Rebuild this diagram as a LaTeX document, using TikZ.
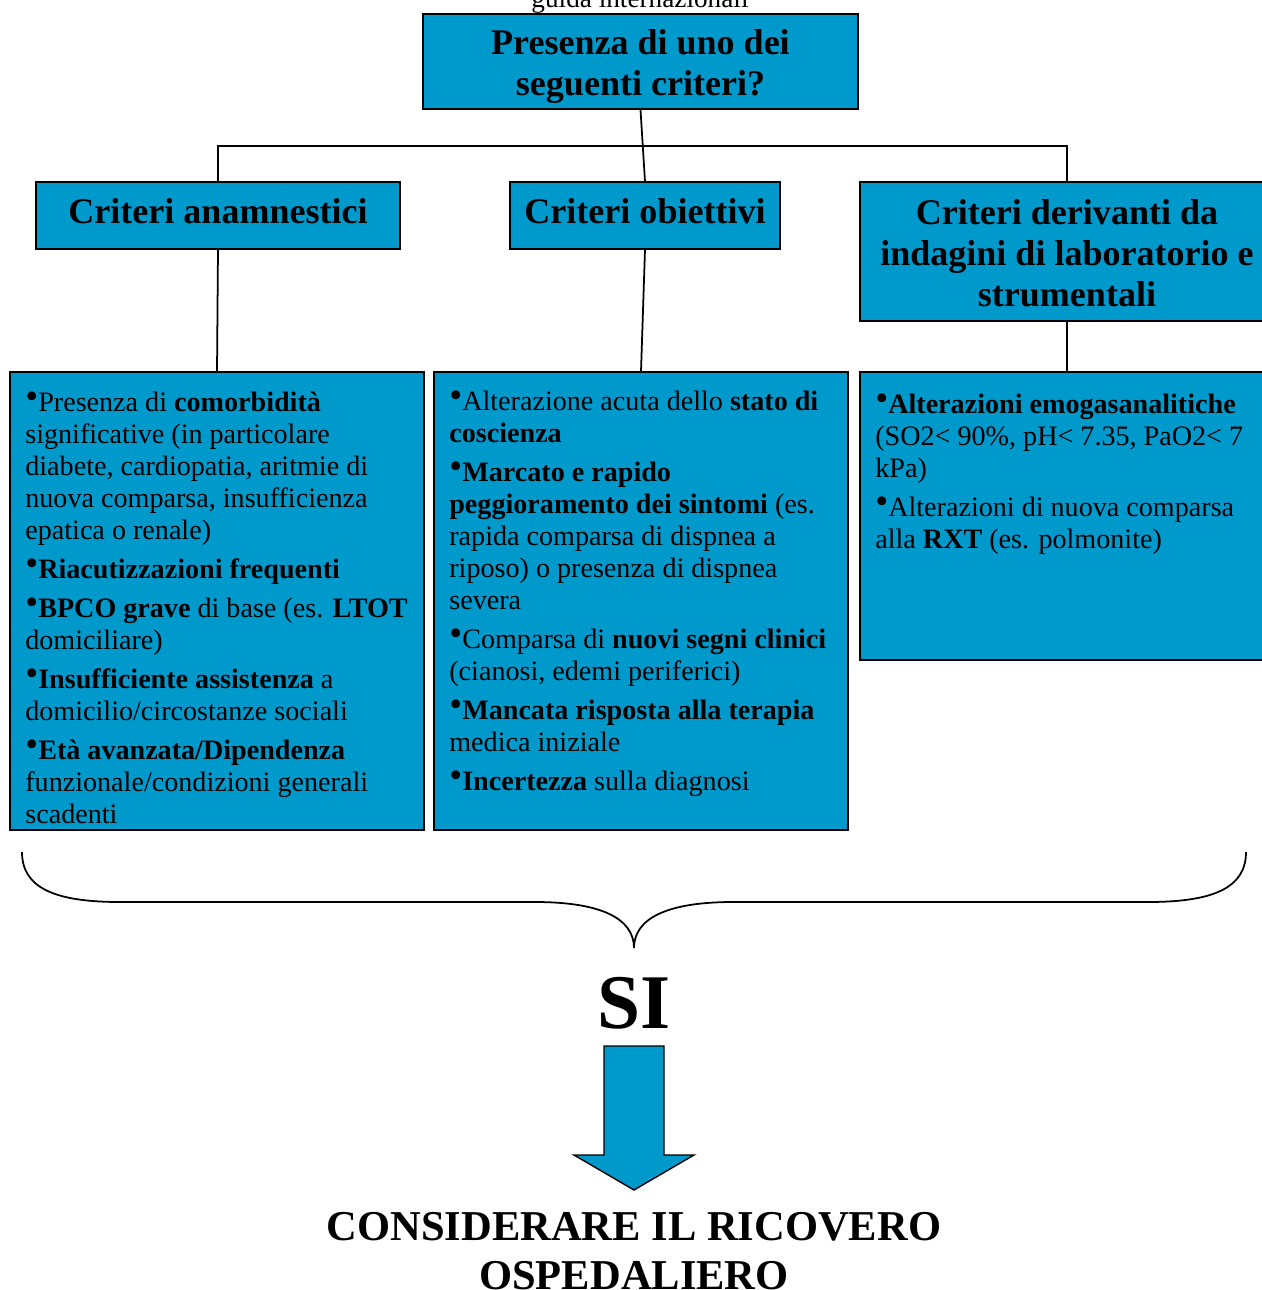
\documentclass[tikz,border=0pt]{standalone}
\usepackage{fontspec}
\setmainfont{Liberation Serif}
\usetikzlibrary{positioning}
\definecolor{critblue}{HTML}{0099CC}
\newcommand{\bul}{\raisebox{0.22ex}{\fontsize{21}{21}\selectfont\textbullet}}

\begin{document}
\begin{tikzpicture}[
    x=0.2mm, y=-0.2mm,
    box/.style={draw=black,fill=critblue,line width=0.6pt,inner sep=0pt},
    head/.style={box,align=center,font=\bfseries\fontsize{20.5}{23.4}\selectfont},
    items/.style={anchor=base west,align=left,inner sep=0pt,font=\fontsize{16}{18.2}\selectfont},
    link/.style={line width=1pt}
]
\useasboundingbox (0,0) rectangle (1262,1290);

\node[anchor=base,font=\fontsize{15.5}{17}\selectfont] (guide) at (640,7) {guida internazionali};

% domanda e gruppi di criteri
\node[head,minimum width=87mm,minimum height=19mm] (quest) at (640.5,61.5) {\rule{0pt}{19.7pt}Presenza di uno dei\\seguenti criteri?};
\node[head,text depth=4.6pt,minimum width=72.8mm,minimum height=13.4mm] (anam) at (218,215.5) {Criteri anamnestici};
\node[head,text depth=4.6pt,minimum width=54mm,minimum height=13.4mm] (obj) at (645,215.5) {Criteri obiettivi};
\node[head,minimum width=82.8mm,minimum height=27.8mm] (lab) at (1067,251.5) {\rule{0pt}{16.5pt}Criteri derivanti da\\indagini di laboratorio e\\strumentali};

\node[box,minimum width=82.8mm,minimum height=91.6mm] (anamlist) at (217,601) {};
\node[box,minimum width=82.8mm,minimum height=91.6mm] (objlist) at (641,601) {};
\node[box,minimum width=82.8mm,minimum height=57.6mm] (lablist) at (1067,516) {};

\coordinate (bus) at (640,146);
\draw[link] (quest.south) -- (obj.north);
\draw[link] (anam.north) |- (bus) -| (lab.north);
\draw[link] (anam.south) -- (anamlist.north);
\draw[link] (obj.south) -- (objlist.north);
\draw[link] (lab.south) -- (lablist.north);

% testi degli elenchi (ancorati all'ultima riga)
\node[items] (anamtxt) at (25,823) {\bul Presenza di \textbf{comorbidità}\\
significative (in particolare\\
diabete, cardiopatia, aritmie di\\
nuova comparsa, insufficienza\\
epatica o renale)\\[4pt]
\bul\textbf{Riacutizzazioni frequenti}\\[4pt]
\bul\textbf{BPCO grave} di base (es. \textbf{LTOT}\\
domiciliare)\\[4pt]
\bul\textbf{Insufficiente assistenza} a\\
domicilio/circostanze sociali\\[4pt]
\bul\textbf{Età avanzata/Dipendenza}\\
funzionale/condizioni generali\\
scadenti};

\node[items] (objtxt) at (449,790) {\bul Alterazione acuta dello \textbf{stato di}\\
\textbf{coscienza}\\[4pt]
\bul\textbf{Marcato e rapido}\\
\textbf{peggioramento dei sintomi} (es.\\
rapida comparsa di dispnea a\\
riposo) o presenza di dispnea\\
severa\\[4pt]
\bul Comparsa di \textbf{nuovi segni clinici}\\
(cianosi, edemi periferici)\\[4pt]
\bul\textbf{Mancata risposta alla terapia}\\
medica iniziale\\[4pt]
\bul\textbf{Incertezza} sulla diagnosi};

\node[items] (labtxt) at (875,548) {\bul\textbf{Alterazioni emogasanalitiche}\\
(SO2< 90\%, pH< 7.35, PaO2< 7\\
kPa)\\[4pt]
\bul Alterazioni di nuova comparsa\\
alla \textbf{RXT} (es. polmonite)};

% graffa
\coordinate (tip) at (634,948);
\draw[link] (22,852) .. controls (22,888) and (55,902) .. (120,902) -- (535,902)
  .. controls (600,902) and (634,918) .. (tip);
\draw[link] (1246,852) .. controls (1246,888) and (1213,902) .. (1148,902) -- (733,902)
  .. controls (668,902) and (634,918) .. (tip);

\node[anchor=base,font=\bfseries\fontsize{44}{44}\selectfont] (yes) at (634,1028) {SI};

% freccia
\draw[fill=critblue,line width=0.8pt,line join=miter]
  (604,1046) -- (664,1046) -- (664,1155) -- (694,1155) -- (634,1190)
  -- (574,1155) -- (604,1155) -- cycle;

\node[anchor=base,align=center,font=\bfseries\fontsize{24.2}{27.4}\selectfont] (result) at (634,1289)
  {CONSIDERARE IL RICOVERO\\OSPEDALIERO};
\end{tikzpicture}
\end{document}
